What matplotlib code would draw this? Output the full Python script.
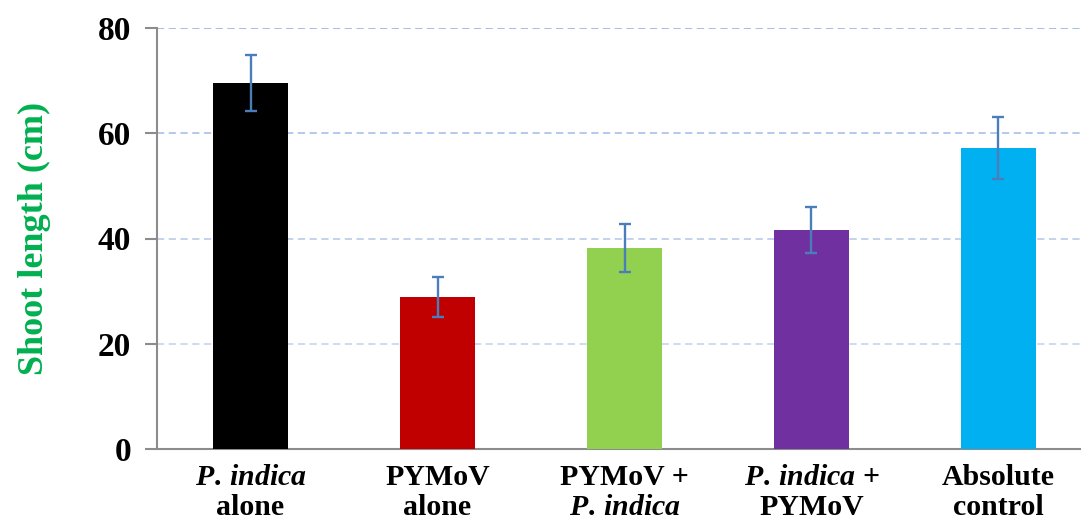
import matplotlib
matplotlib.use("Agg")
import matplotlib.pyplot as plt

plt.rcParams['font.family'] = ['Liberation Serif', 'DejaVu Serif']
plt.rcParams['mathtext.fontset'] = 'custom'
plt.rcParams['mathtext.rm'] = 'Liberation Serif:bold'
plt.rcParams['mathtext.bf'] = 'Liberation Serif:bold'
plt.rcParams['mathtext.it'] = 'Liberation Serif:italic:bold'

categories = [r"$\mathit{P.\,indica}$" + "\nalone",
              "PYMoV\nalone",
              "PYMoV +\n" + r"$\mathit{P.\,indica}$",
              r"$\mathit{P.\,indica}$" + " +\nPYMoV",
              "Absolute\ncontrol"]
values = [69.5, 28.9, 38.2, 41.6, 57.2]
errors = [5.3, 3.8, 4.5, 4.4, 5.8]
colors = ["#000000", "#C00000", "#92D050", "#7030A0", "#00B0F0"]
yticks = [0, 20, 40, 60, 80]

fig = plt.figure(figsize=(10.81, 5.27), dpi=100)
ax = fig.add_axes([157/1081, 78/527, 935/1081, 421/527])

x = list(range(len(values)))
ax.bar(x, values, width=0.40, color=colors, zorder=3)
ax.errorbar(x, values, yerr=errors, fmt='none', ecolor='#4A7EBB',
            elinewidth=1.7, capsize=4.6, capthick=1.7, zorder=4)

ax.set_xlim(-0.5, 4.5)
ax.set_ylim(0, 80)
ax.set_yticks(yticks)
ax.set_yticklabels([str(t) for t in yticks], fontsize=24, fontweight='bold')
ax.set_xticks(x)
ax.set_xticklabels(categories, fontsize=21.5, fontweight='bold', linespacing=1.15)
ax.tick_params(axis='x', length=0, pad=11)
ax.tick_params(axis='y', length=9, width=1.5, color='#8C8C8C', direction='out', pad=9.5)

for s in ['top', 'right']:
    ax.spines[s].set_visible(False)
for s in ['left', 'bottom']:
    ax.spines[s].set_color('#8C8C8C')
    ax.spines[s].set_linewidth(1.5)

ax.yaxis.grid(True, linestyle=(0, (4, 2.5)), linewidth=1.3, zorder=0)
gcols = ['#DCE5F5', '#CCD8F0', '#BFCFEE', '#B0C4EA', '#9FB7E6']
for gl, c in zip(ax.get_ygridlines(), gcols):
    gl.set_color(c)
ax.set_axisbelow(True)

ax.set_ylabel("Shoot length (cm)", fontsize=26, fontweight='bold', color='#00B050', labelpad=34)

fig.savefig("out.png", dpi=100)
